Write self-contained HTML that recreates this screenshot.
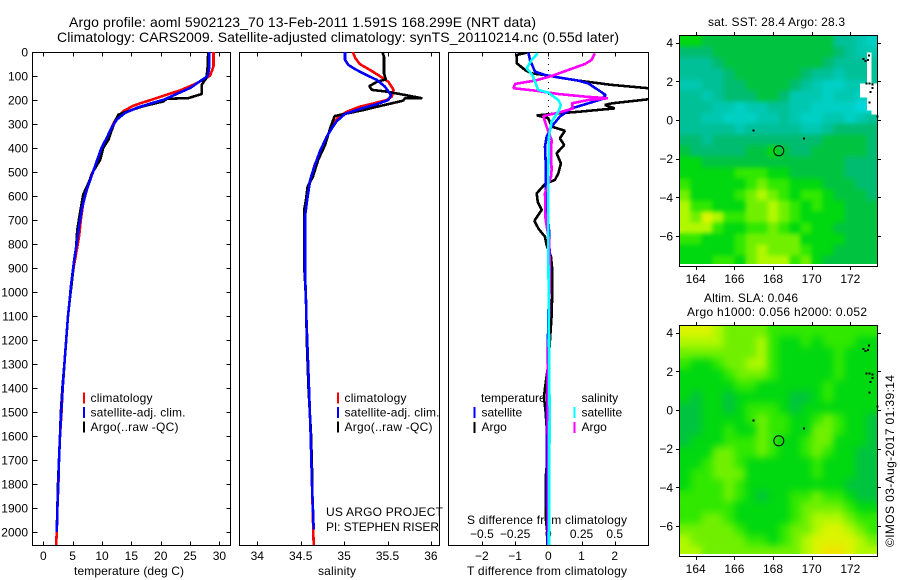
<!DOCTYPE html>
<html>
<head>
<meta charset="utf-8">
<title>Argo profile 5902123_70</title>
<style>
html,body{margin:0;padding:0;background:#fff;}
svg{display:block;}
text{font-family:"Liberation Sans",sans-serif;fill:#000;font-size:12px;}
.t{font-size:14px;}
</style>
</head>
<body>
<svg id="chart" xmlns="http://www.w3.org/2000/svg" width="900" height="580" viewBox="0 0 900 580">
<defs>
<clipPath id="clip-temp"><rect x="33" y="52" width="198" height="493"/></clipPath>
<clipPath id="clip-sal"><rect x="240" y="52" width="200" height="493"/></clipPath>
<clipPath id="clip-diff"><rect x="449" y="52" width="199" height="493"/></clipPath>
<filter id="soft-sst" filterUnits="userSpaceOnUse" x="679" y="35" width="199" height="229" color-interpolation-filters="sRGB">
<feGaussianBlur in="SourceGraphic" stdDeviation="2.5" result="b"/>
<feMerge><feMergeNode in="SourceGraphic"/><feMergeNode in="b"/></feMerge>
</filter>
<filter id="soft-sla" filterUnits="userSpaceOnUse" x="679" y="325" width="199" height="229" color-interpolation-filters="sRGB">
<feGaussianBlur in="SourceGraphic" stdDeviation="4" result="b"/>
<feMerge><feMergeNode in="SourceGraphic"/><feMergeNode in="b"/></feMerge>
</filter>
</defs>
<text class="t" x="69" y="27" textLength="467" lengthAdjust="spacing">Argo profile: aoml 5902123_70 13-Feb-2011 1.591S 168.299E (NRT data)</text>
<text class="t" x="57" y="42" textLength="562" lengthAdjust="spacing">Climatology: CARS2009. Satellite-adjusted climatology: synTS_20110214.nc (0.55d later)</text>
<text x="74" y="575" textLength="110" lengthAdjust="spacing">temperature (deg C)</text>
<text x="318" y="575" textLength="38" lengthAdjust="spacing">salinity</text>
<text x="467" y="575" textLength="160" lengthAdjust="spacing">T difference from climatology</text>
<text x="467" y="524" textLength="160" lengthAdjust="spacing">S difference from climatology</text>
<text x="326" y="516" textLength="117" lengthAdjust="spacing">US ARGO PROJECT</text>
<text x="326" y="531" textLength="113" lengthAdjust="spacing">PI: STEPHEN RISER</text>
<text x="708" y="26" textLength="137" lengthAdjust="spacing">sat. SST: 28.4  Argo: 28.3</text>
<text x="704" y="302" textLength="94" lengthAdjust="spacing">Altim. SLA: 0.046</text>
<text x="687" y="316" textLength="180" lengthAdjust="spacing">Argo h1000: 0.056 h2000: 0.052</text>
<text transform="translate(894,547) rotate(-90)" textLength="172" lengthAdjust="spacing">©IMOS 03-Aug-2017 01:39:14</text>
</svg>
<script>
// ---- chart data ----
const depthTicks = [0,100,200,300,400,500,600,700,800,900,1000,1100,1200,1300,1400,1500,1600,1700,1800,1900,2000];
const tempTicks = [0,5,10,15,20,25,30];
const salTicks = [34,34.5,35,35.5,36];
const tDiffTicks = [-2,-1,0,1,2];
const sDiffTicks = [-0.5,-0.25,0,0.25,0.5];
const sDiffLabels = ['\u22120.5','\u22120.25','0','0.25','0.5'];
const lonTicks = [164,166,168,170,172];
const latTicks = [4,2,0,-2,-4,-6];

const tempClimDepth = [0,60,99,115,136,160,178,192,210,224,247,275,299,344,393,449,511,567,629,698,767,838,893,962,1033,1100,1200,1300,1400,1500,1600,1700,1800,1900,2000,2055];
const tempClimValue = [29.0,29.0,28.4,27.3,25.6,23.3,21.0,19.3,17.0,15.3,13.6,12.5,11.9,11.1,10.3,9.5,8.2,7.5,6.8,6.4,6.1,5.6,5.2,4.8,4.5,4.2,3.9,3.6,3.3,3.1,2.85,2.68,2.57,2.4,2.28,2.2];
const tempSatDepth = [0,60,100,122,150,175,199,215,233,254,282,317,358,400,456,532,580,650,726,796,879,976,1033,1100,1200,1300,1400,1500,1600,1700,1800,1900,2000];
const tempSatValue = [28.3,28.3,28.0,26.7,25.0,22.7,20.5,18.2,15.9,13.9,12.5,11.6,10.8,9.9,9.1,8.0,7.3,6.6,6.1,5.7,5.2,4.7,4.5,4.2,3.9,3.6,3.3,3.05,2.85,2.68,2.55,2.4,2.3];
const tempArgoDepth = [0,60,108,136,175,192,195,206,226,240,261,289,330,365,400,449,497,546,594,671,740,810,879,949,1033,1100,1200,1300,1400,1500,1600,1700,1800,1900,1990];
const tempArgoValue = [28.1,28.0,27.8,27.0,27.0,24.7,21.0,20.5,17.0,15.3,12.8,12.2,11.6,11.1,10.2,9.7,8.5,7.7,6.8,6.25,5.8,5.6,5.2,4.9,4.5,4.2,3.9,3.6,3.25,3.0,2.85,2.68,2.5,2.4,2.3];

const salClimDepth = [0,26,50,75,100,124,158,186,200,214,228,249,272,297,339,408,471,540,589,658,783,922,1019,1100,1200,1300,1400,1600,1800,2000,2055];
const salClimValue = [35.10,35.13,35.18,35.30,35.41,35.51,35.57,35.55,35.49,35.34,35.18,35.03,34.93,34.88,34.82,34.74,34.66,34.61,34.58,34.55,34.55,34.55,34.56,34.565,34.575,34.585,34.596,34.615,34.63,34.645,34.65];
const salSatDepth = [0,33,54,72,89,117,144,179,200,217,235,258,290,318,353,415,485,533,603,686,783,922,1019,1100,1200,1300,1400,1600,1800,1990];
const salSatValue = [35.01,35.01,35.05,35.13,35.22,35.38,35.47,35.54,35.51,35.38,35.20,35.01,34.91,34.86,34.80,34.72,34.65,34.61,34.58,34.55,34.55,34.55,34.56,34.565,34.575,34.585,34.596,34.615,34.63,34.65];
const salArgoDepth = [0,19,89,114,124,142,158,165,175,193,193,203,228,242,262,267,318,388,450,520,561,617,658,894,950,1019,1200,1400,1600,1800];
const salArgoValue = [35.44,35.46,35.46,35.48,35.38,35.29,35.32,35.49,35.64,35.90,35.70,35.68,35.38,35.22,34.95,34.89,34.84,34.78,34.70,34.64,34.58,34.56,34.54,34.54,34.55,34.56,34.57,34.59,34.62,34.635];

const tDiffArgoDepth = [3,12,47,75,89,96,106,119,137,151,165,197,214,221,235,249,256,264,276,311,328,360,388,422,464,506,533,550,589,624,658,703,735,770,804,853,908,992,1100,1200,1300,1400,1440,1500,1600,1700,1776,1936,2000];
const tDiffArgoValue = [-0.65,-0.95,-0.95,-0.70,-0.50,-0.10,0.30,0.90,1.91,3.01,4.00,3.01,1.91,1.70,2.00,0.90,0.30,-0.35,0,0.10,0.50,0.35,0.48,0.25,0.38,0.30,0.20,-0.10,-0.35,-0.32,-0.20,-0.42,-0.30,-0.10,-0.05,0.08,0.12,0.12,0.10,0.05,0,-0.10,-0.13,-0.08,-0.03,-0.03,-0.08,-0.08,-0.03];
const tDiffSatDepth = [3,33,82,96,106,119,131,158,179,197,214,235,269,311,353,394,492,600,742,908,1100,1400,1600,2055];
const tDiffSatValue = [-0.60,-0.55,-0.40,-0.10,0.30,0.90,1.20,1.50,1.73,1.60,1.20,0.70,0.35,0.10,-0.05,-0.10,-0.07,-0.07,0.02,0.05,0,-0.03,-0.05,-0.03];
const sDiffSatDepth = [6,33,68,96,124,158,169,200,221,249,290,353,505,800,1200,1500,2055];
const sDiffSatValue = [-0.08,-0.125,-0.163,-0.12,-0.10,-0.075,0,0.075,0.095,0.075,0.025,0.005,0,0,0.005,0.01,0.005];
const sDiffArgoDepth = [6,33,50,75,100,119,133,151,161,175,186,193,200,214,235,253,267,311,367,422,490,520,589,700,780,922,1100,1400,1700,2055];
const sDiffArgoValue = [0.35,0.326,0.276,0.15,0.025,-0.10,-0.25,-0.263,-0.10,0.075,0.276,0.447,0.30,0.176,0.188,0.075,-0.038,-0.013,0.025,0.02,0.025,0.02,-0.025,-0.02,0.005,0.012,0.005,-0.005,0,0];

const sstRows = [
[6,6,5,5,5,5,5,5,5,5,5,5,5,5,3,3,2,1],
[4,4,4,5,5,5,5,5,5,5,5,5,5,5,4,3,2,2],
[3,3,3,4,5,5,5,5,5,5,5,5,5,4,3,3,3,3],
[3,3,3,3,4,5,5,5,5,5,5,4,3,3,2,3,3,3],
[2,2,3,3,4,4,5,5,5,5,4,3,2,1,1,2,2,3],
[3,3,2,3,4,4,4,5,5,4,2,2,2,1,2,2,1,1],
[3,3,3,2,2,1,2,2,3,3,2,2,1,1,1,1,0,0],
[3,3,2,2,1,1,1,2,2,3,2,1,1,2,2,1,2,3],
[3,3,3,3,3,2,3,3,3,3,3,2,2,3,4,4,4,4],
[4,4,3,4,4,4,4,4,4,4,4,4,4,5,5,5,5,4],
[5,4,4,4,4,4,5,5,6,5,4,4,5,5,5,5,5,4],
[6,6,5,5,5,5,5,5,5,5,5,5,5,5,5,4,4,4],
[6,6,6,6,6,7,7,7,6,6,5,5,5,5,5,4,4,4],
[7,6,6,6,6,6,7,8,7,7,6,6,6,5,5,5,4,4],
[8,6,6,6,6,7,8,9,8,7,6,7,7,6,5,5,5,4],
[9,7,7,6,6,6,8,8,9,8,7,6,7,6,6,5,5,5],
[9,8,10,9,7,7,8,8,9,8,7,6,6,6,6,5,5,5],
[9,9,9,7,6,6,7,7,8,7,6,7,6,6,5,5,5,5],
[7,7,6,6,6,7,8,8,8,8,8,6,6,6,6,5,5,5],
[6,6,6,6,6,7,8,9,8,8,8,7,6,6,5,5,5,5],
[6,6,6,7,7,6,8,9,9,9,7,8,6,5,5,5,5,5]
];
const slaRows = [
[10,10,10,9,8,8,8,8,7,7,7,7,7,7,7,7,7,7],
[9,9,9,9,8,8,8,9,7,6,6,7,6,7,7,7,6,6],
[8,8,8,8,8,8,8,9,7,6,6,6,6,6,7,6,6,6],
[7,6,6,7,8,8,9,9,7,6,6,6,6,6,7,6,6,6],
[6,6,6,6,7,8,8,8,7,6,6,6,6,6,7,6,6,6],
[6,6,6,6,6,7,7,6,6,6,6,6,6,7,6,6,6,6],
[6,5,6,6,5,6,6,6,6,6,5,5,6,7,6,6,6,6],
[5,5,6,6,5,6,7,7,7,6,5,6,6,6,6,6,6,6],
[5,5,6,6,6,6,7,8,7,7,6,6,7,8,7,6,6,5],
[5,5,6,6,7,6,6,8,7,7,6,6,8,8,7,6,6,5],
[5,6,6,6,7,7,7,8,7,6,6,7,8,8,6,6,6,5],
[6,6,6,8,8,7,7,8,7,6,6,7,8,7,6,6,5,5],
[6,6,7,8,8,7,6,6,6,6,6,6,7,6,6,6,5,5],
[6,7,7,8,8,8,6,6,6,6,6,6,7,6,6,6,5,5],
[6,7,7,7,8,7,6,6,6,6,6,6,6,6,6,5,5,5],
[7,7,7,7,8,7,6,5,6,6,7,7,8,7,7,6,5,5],
[7,7,7,7,7,6,6,6,6,6,7,8,8,8,8,7,6,6],
[7,7,8,8,7,6,6,6,6,6,7,8,9,9,9,8,7,7],
[8,8,8,8,8,7,6,6,6,7,8,8,9,10,10,9,8,7],
[9,8,8,8,8,8,7,7,6,7,8,9,10,10,10,10,9,8],
[9,9,8,8,8,8,8,8,8,8,8,9,10,11,11,10,9,9]
];
const levelColors = ['#00d8dc','#00d0c4','#00c8b0','#00c098','#00bc70','#00c440','#00d810','#30e800','#70f000','#b0f800','#dcf400','#f0e400'];
const argoLon = 168.299;
const argoLat = -1.591;
const coastLon = [172.62,172.72,172.85,172.92,172.78,172.95,173.1,172.98,173.1,172.95,173.35,166.95,169.55];
const coastLat = [3.2,3.1,3.15,3.4,1.95,1.95,1.7,1.5,1.9,0.95,0.22,-0.5,-0.9];
const sstNoDataLonMin = [172.85,172.5,172.85,173.1];
const sstNoDataLonMax = [173.1,173.4,173.4,173.4];
const sstNoDataLatTop = [3.5,1.9,1.17,0.5];
const sstNoDataLatBottom = [1.9,1.17,0.5,0.27];
const legendMainLabels = ['climatology','satellite-adj. clim.','Argo(..raw -QC)'];
const legendMainColors = ['#ff0000','#0000ff','#000000'];

// ---- axis functions ----
const svg = document.getElementById('chart');
const NS = 'http://www.w3.org/2000/svg';
const yDepth = d => 52 + d * 0.24;
const xTemp = v => 43.3 + v * 5.87;
const xSal = v => 257.3 + (v - 34) * 86.8;
const xTD = v => 548.3 + v * 33.2;
const xSD = v => 548.3 + v * 132.8;
const xLon = v => 695.7 + (v - 164) * 19.33;
const ySst = v => 120 - v * 19.33;
const ySla = v => 410 - v * 19.33;

function node(tag, parent) {
  const el = document.createElementNS(NS, tag);
  (parent || svg).appendChild(el);
  return el;
}
function line(x1, y1, x2, y2, name) {
  const el = node('line');
  el.setAttribute('x1', x1); el.setAttribute('y1', y1);
  el.setAttribute('x2', x2); el.setAttribute('y2', y2);
  el.setAttribute('stroke', '#000');
  el.setAttribute('stroke-width', '1');
  el.setAttribute('shape-rendering', 'crispEdges');
  
  
  return el;
}
function label(x, y, str, anchor, name) {
  const el = node('text');
  el.setAttribute('x', x); el.setAttribute('y', y);
  el.setAttribute('text-anchor', anchor);
  el.textContent = str;
  
  
  return el;
}
function frame(x, y, w, h, name) {
  const el = node('rect');
  el.setAttribute('x', x); el.setAttribute('y', y);
  el.setAttribute('width', w); el.setAttribute('height', h);
  el.setAttribute('fill', 'none');
  el.setAttribute('stroke', '#000');
  el.setAttribute('stroke-width', '1');
  el.setAttribute('shape-rendering', 'crispEdges');
  
  
  return el;
}
function series(depths, values, xFn, color, clip, name) {
  const el = node('polyline');
  el.setAttribute('points', depths.map((d, i) => xFn(values[i]).toFixed(1) + ',' + yDepth(d).toFixed(1)).join(' '));
  el.setAttribute('fill', 'none');
  el.setAttribute('stroke', color);
  el.setAttribute('stroke-width', '2.6');
  el.setAttribute('stroke-linejoin', 'bevel');
  el.setAttribute('shape-rendering', 'crispEdges');
  el.setAttribute('clip-path', 'url(#' + clip + ')');
  
  
  return el;
}
function fmt(v) { return String(v).replace('-', '\u2212'); }

// ---- profile panels ----
frame(32.5, 52.5, 198, 493, 'temperature-panel-frame');
frame(239.5, 52.5, 200, 493, 'salinity-panel-frame');
frame(448.5, 52.5, 200, 493, 'difference-panel-frame');

depthTicks.forEach(d => {
  const y = Math.round(yDepth(d)) + 0.5;
  if (d > 0) {
    line(32.5, y, 37.5, y, 'depth-tick-left');
    line(226.5, y, 230.5, y, 'depth-tick-right');
  }
  label(28, yDepth(d) + 4.5, String(d), 'end', 'depth-tick-label');
});
tempTicks.forEach(v => {
  const x = Math.round(xTemp(v)) + 0.5;
  line(x, 52.5, x, 56.5, 'temperature-tick-top');
  line(x, 541.5, x, 545.5, 'temperature-tick-bottom');
  label(xTemp(v), 560, fmt(v), 'middle', 'temperature-tick-label');
});
salTicks.forEach(v => {
  const x = Math.round(xSal(v)) + 0.5;
  line(x, 52.5, x, 56.5, 'salinity-tick-top');
  line(x, 541.5, x, 545.5, 'salinity-tick-bottom');
  label(xSal(v), 560, fmt(v), 'middle', 'salinity-tick-label');
});
tDiffTicks.forEach(v => {
  const x = Math.round(xTD(v)) + 0.5;
  line(x, 541.5, x, 545.5, 't-difference-tick-bottom');
  label(xTD(v), 560, fmt(v), 'middle', 't-difference-tick-label');
});
sDiffTicks.forEach((v, i) => {
  const x = Math.round(xSD(v)) + 0.5;
  line(x, 52.5, x, 56.5, 's-difference-tick-top');
  label(xSD(v), 538, sDiffLabels[i], 'middle', 's-difference-tick-label');
});

const zeroLine = line(548.5, 52, 548.5, 120, 'zero-difference-line');
zeroLine.setAttribute('stroke-dasharray', '1 5');

series(tempClimDepth, tempClimValue, xTemp, '#ff0000', 'clip-temp', 'temperature-climatology-line');
series(tempArgoDepth, tempArgoValue, xTemp, '#000000', 'clip-temp', 'temperature-argo-line');
series(tempSatDepth, tempSatValue, xTemp, '#0000ff', 'clip-temp', 'temperature-satellite-line');
series(salClimDepth, salClimValue, xSal, '#ff0000', 'clip-sal', 'salinity-climatology-line');
series(salArgoDepth, salArgoValue, xSal, '#000000', 'clip-sal', 'salinity-argo-line');
series(salSatDepth, salSatValue, xSal, '#0000ff', 'clip-sal', 'salinity-satellite-line');
series(tDiffArgoDepth, tDiffArgoValue, xTD, '#000000', 'clip-diff', 't-difference-argo-line');
series(tDiffSatDepth, tDiffSatValue, xTD, '#0000ff', 'clip-diff', 't-difference-satellite-line');
series(sDiffArgoDepth, sDiffArgoValue, xSD, '#ff00ff', 'clip-diff', 's-difference-argo-line');
series(sDiffSatDepth, sDiffSatValue, xSD, '#00ffff', 'clip-diff', 's-difference-satellite-line');

// ---- legends ----
function legendBar(x, y, color, name) {
  const el = node('rect');
  el.setAttribute('x', x); el.setAttribute('y', y);
  el.setAttribute('width', 2); el.setAttribute('height', 11);
  el.setAttribute('fill', color);
  el.setAttribute('shape-rendering', 'crispEdges');
  
  
}
[[83, 90.5], [337, 344.5]].forEach(pos => {
  legendMainLabels.forEach((s, i) => {
    legendBar(pos[0], 392.5 + i * 14.5, legendMainColors[i], 'legend-swatch');
    const t = label(pos[1], 402 + i * 14.5, s, 'start', 'legend-label');
    t.setAttribute('textLength', [62, 95, 88][i]);
  });
});
label(481, 402, 'temperature', 'start', 'legend-temperature-heading');
label(581.5, 402, 'salinity', 'start', 'legend-salinity-heading');
legendBar(473.5, 407, '#0000ff', 'legend-swatch');
label(481.5, 416.5, 'satellite', 'start', 'legend-label');
legendBar(473.5, 422, '#000000', 'legend-swatch');
label(481.5, 431, 'Argo', 'start', 'legend-label');
legendBar(573.5, 407, '#00ffff', 'legend-swatch');
label(581.5, 416.5, 'satellite', 'start', 'legend-label');
legendBar(573.5, 422, '#ff00ff', 'legend-swatch');
label(581.5, 431, 'Argo', 'start', 'legend-label');

// ---- maps ----
const cellLon = 11 / 19.33;
const lonStart = 163.15;
const latStart = 4.38;
function drawMap(rows, yLat, top, cellName, filterId) {
  const group = node('g');
  group.setAttribute('filter', 'url(#' + filterId + ')');
  
  
  rows.forEach((row, r) => {
    row.forEach((v, c) => {
      const el = node('rect', group);
      const x0 = xLon(lonStart + c * cellLon);
      const y0 = yLat(latStart - r * cellLon);
      const y1 = Math.min(yLat(latStart - (r + 1) * cellLon), top + 229);
      el.setAttribute('x', x0.toFixed(2));
      el.setAttribute('y', y0.toFixed(2));
      el.setAttribute('width', (xLon(lonStart + (c + 1) * cellLon) - x0).toFixed(2));
      el.setAttribute('height', (y1 - y0).toFixed(2));
      el.setAttribute('fill', levelColors[v]);
      el.setAttribute('shape-rendering', 'crispEdges');
      
      
    });
  });
}
function mapDecor(yLat, top, prefix) {
  coastLon.forEach((lon, i) => {
    const el = node('rect');
    el.setAttribute('x', xLon(lon).toFixed(1));
    el.setAttribute('y', yLat(coastLat[i]).toFixed(1));
    el.setAttribute('width', 2);
    el.setAttribute('height', 2);
    el.setAttribute('fill', '#000');
    el.setAttribute('shape-rendering', 'crispEdges');
    
    
  });
  const c = node('circle');
  c.setAttribute('cx', xLon(argoLon).toFixed(1));
  c.setAttribute('cy', yLat(argoLat).toFixed(1));
  c.setAttribute('r', 5);
  c.setAttribute('fill', 'none');
  c.setAttribute('stroke', '#000');
  c.setAttribute('stroke-width', 1);
  
  
  frame(679.5, top + 0.5, 198, 231, prefix + '-map-frame');
  lonTicks.forEach(v => {
    const x = Math.round(xLon(v)) + 0.5;
    line(x, top + 0.5, x, top - 3, prefix + '-lon-tick-top');
    line(x, top + 231.5, x, top + 235, prefix + '-lon-tick-bottom');
    label(xLon(v), top + 248, String(v), 'middle', prefix + '-lon-tick-label');
  });
  latTicks.forEach(v => {
    const y = Math.round(yLat(v)) + 0.5;
    line(679.5, y, 676, y, prefix + '-lat-tick-left');
    line(877.5, y, 881, y, prefix + '-lat-tick-right');
    label(673, yLat(v) + 4.5, fmt(v), 'end', prefix + '-lat-tick-label');
  });
}
drawMap(sstRows, ySst, 35, 'sst-cell', 'soft-sst');
sstNoDataLonMin.forEach((lon, i) => {
  const el = node('rect');
  el.setAttribute('x', xLon(lon).toFixed(1));
  el.setAttribute('y', ySst(sstNoDataLatTop[i]).toFixed(1));
  el.setAttribute('width', (xLon(sstNoDataLonMax[i]) - xLon(lon)).toFixed(1));
  el.setAttribute('height', (ySst(sstNoDataLatBottom[i]) - ySst(sstNoDataLatTop[i])).toFixed(1));
  el.setAttribute('fill', '#fff');
  el.setAttribute('shape-rendering', 'crispEdges');
  
  
});
mapDecor(ySst, 35, 'sst');
drawMap(slaRows, ySla, 325, 'sla-cell', 'soft-sla');
mapDecor(ySla, 325, 'sla');
</script>
</body>
</html>
